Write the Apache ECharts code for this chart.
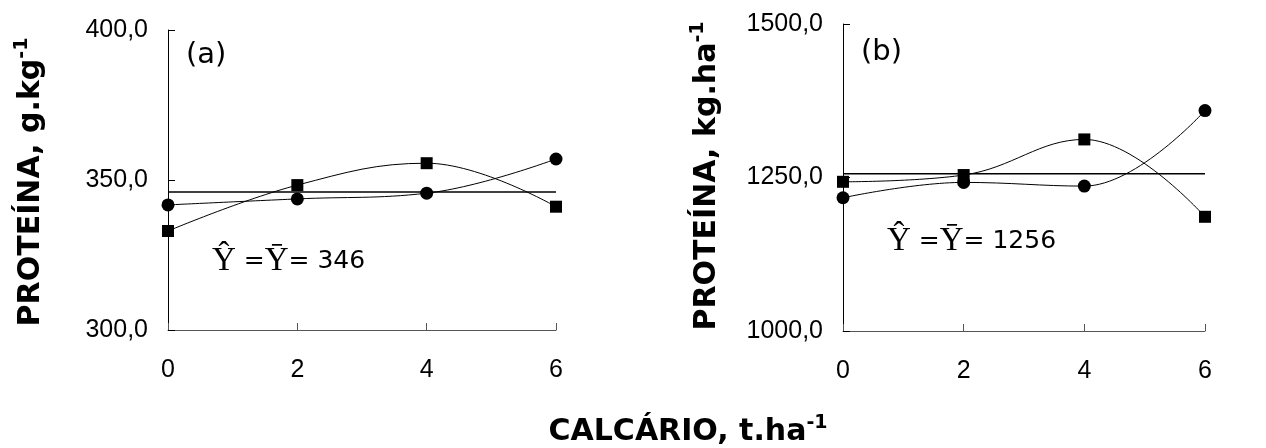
<!DOCTYPE html>
<html>
<head>
<meta charset="utf-8">
<script src="https://cdn.jsdelivr.net/npm/echarts@6/dist/echarts.min.js"></script>
<style>
  html, body { margin: 0; padding: 0; background: #fff; }
  #main { width: 1266px; height: 448px; }
</style>
</head>
<body>
<div id="main"></div>
<script>
// doses de calcário (t/ha)
const doses = [0, 2, 4, 6];

// (a) proteína, g/kg
const circulosA = [341.7, 343.7, 345.6, 357.0];
const quadradosA = [333.0, 348.3, 355.6, 341.1];
const mediaA = 346;

// (b) proteína, kg/ha
const circulosB = [1217, 1242, 1236, 1359];
const quadradosB = [1243, 1254, 1312, 1186];
const mediaB = 1256;

const pares = (ys) => doses.map((x, i) => [x, ys[i]]);
const linhaMedia = (m) => [[doses[0], m], [doses[doses.length - 1], m]];
const virgula = (v) => v.toFixed(1).replace('.', ',');

const myChart = echarts.init(document.getElementById('main'));

const eixoX = (idx) => ({
  type: 'value',
  gridIndex: idx,
  min: 0,
  max: 6,
  interval: 2,
  axisLine: { lineStyle: { color: '#555', width: 1 } },
  axisTick: { inside: true, length: 7, lineStyle: { color: '#555' } },
  splitLine: { show: false },
  axisLabel: {
    margin: 28,
    color: '#000',
    fontFamily: 'Liberation Sans, Arial',
    fontSize: 25
  }
});

const eixoY = (idx, min, max, interval) => ({
  type: 'value',
  gridIndex: idx,
  min: min,
  max: max,
  interval: interval,
  axisLine: { show: true, lineStyle: { color: '#000', width: 1 } },
  axisTick: { show: true, inside: true, length: 7, lineStyle: { color: '#000' } },
  splitLine: { show: false },
  axisLabel: {
    margin: 20,
    color: '#000',
    fontFamily: 'Liberation Sans, Arial',
    fontSize: 25,
    formatter: virgula
  }
});

const serie = (idx, dados, simbolo, tam) => ({
  type: 'line',
  xAxisIndex: idx,
  yAxisIndex: idx,
  data: pares(dados),
  smooth: 0.4,
  symbol: simbolo,
  symbolSize: tam,
  color: '#000',
  lineStyle: { color: '#000', width: 1 },
  itemStyle: { color: '#000' },
  z: 3
});

const media = (idx, m) => ({
  type: 'line',
  xAxisIndex: idx,
  yAxisIndex: idx,
  data: linhaMedia(m),
  symbol: 'none',
  lineStyle: { color: '#000', width: 1.5 },
  z: 2
});

const richTitulo = {
  b: { fontFamily: 'DejaVu Sans', fontWeight: 'bold', fontSize: 30, color: '#000', lineHeight: 36 },
  s: { fontFamily: 'DejaVu Sans', fontWeight: 'bold', fontSize: 19, color: '#000', lineHeight: 36, verticalAlign: 'top' }
};

const richEq = {
  y: { fontFamily: 'Liberation Serif, DejaVu Serif', fontSize: 33, color: '#000' },
  t: { fontFamily: 'DejaVu Sans', fontSize: 25, color: '#000' }
};

const option = {
  animation: false,
  backgroundColor: '#fff',
  grid: [
    { left: 168, top: 30, width: 388, height: 300 },
    { left: 843, top: 24, width: 362, height: 307 }
  ],
  xAxis: [eixoX(0), eixoX(1)],
  yAxis: [eixoY(0, 300, 400, 50), eixoY(1, 1000, 1500, 250)],
  series: [
    media(0, mediaA),
    serie(0, circulosA, 'circle', 13),
    serie(0, quadradosA, 'rect', 12),
    media(1, mediaB),
    serie(1, circulosB, 'circle', 13),
    serie(1, quadradosB, 'rect', 12)
  ],
  graphic: [
    {
      type: 'text', x: 31, y: 182, rotation: Math.PI / 2,
      style: { text: '{b|PROTEÍNA, g.kg}{s|-1}', rich: richTitulo, align: 'center', verticalAlign: 'middle' }
    },
    {
      type: 'text', x: 707, y: 176, rotation: Math.PI / 2,
      style: { text: '{b|PROTEÍNA, kg.ha}{s|-1}', rich: richTitulo, align: 'center', verticalAlign: 'middle' }
    },
    {
      type: 'text', x: 688, y: 432,
      style: { text: '{b|CALCÁRIO, t.ha}{s|-1}', rich: richTitulo, align: 'center', verticalAlign: 'middle' }
    },
    {
      type: 'text', x: 186, y: 55,
      style: { text: '(a)', fontFamily: 'DejaVu Sans', fontSize: 29, fill: '#000', verticalAlign: 'middle' }
    },
    {
      type: 'text', x: 861, y: 52,
      style: { text: '(b)', fontFamily: 'DejaVu Sans', fontSize: 29, fill: '#000', verticalAlign: 'middle' }
    },
    {
      type: 'text', x: 212, y: 261,
      style: { text: '{y|Ŷ}{t| =}{y|Ȳ}{t|= ' + mediaA + '}', rich: richEq, verticalAlign: 'middle' }
    },
    {
      type: 'text', x: 887, y: 241,
      style: { text: '{y|Ŷ}{t| =}{y|Ȳ}{t|= ' + mediaB + '}', rich: richEq, verticalAlign: 'middle' }
    }
  ]
};

myChart.setOption(option);
</script>
</body>
</html>
